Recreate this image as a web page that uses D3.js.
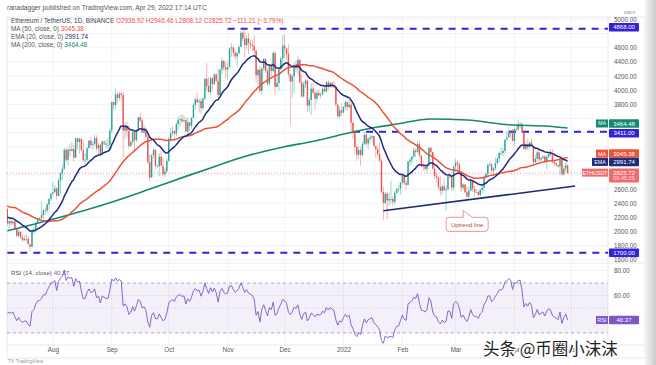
<!DOCTYPE html>
<html><head><meta charset="utf-8">
<script src="https://cdn.jsdelivr.net/npm/d3@7"></script>
<style>
body{margin:0;background:#fff}
svg{display:block;font-family:"Liberation Sans",Arial,sans-serif}
</style>
</head><body>
<svg id="c" width="656" height="365"></svg>
<script>
// ---------- DATA ----------
const startDate = "2021-07-08";
// closes before the visible window (May 20 – Jul 7 2021), used only for MA/EMA/RSI warm-up
const preCloses = [2770,2430,2300,2100,2640,2710,2890,2740,2420,2280,2390,2630,
 2590,2710,2860,2690,2630,2710,2590,2520,2610,2470,2370,2370,2510,2590,2550,2360,2370,2230,2180,2250,1890,1870,1970,1990,1830,1820,1980,2080,2160,2270,
 2110,2150,2220,2320,2200,2320,2320];
const closes = [
 2115,2146,2116,2142,2034,1940,1995,1915,1877,1896,1895,1820,1785,1995,2030,2124,2187,2190,2230,2300,2298,2383,2461,2536,
 2555,2610,2505,2725,2828,2890,3155,3015,3160,3140,3165,3045,3320,3265,3310,3150,3010,3015,3180,3285,3225,3240,3325,3175,3225,3100,3270,3245,3225,3225,3430,
 3830,3790,3940,3890,3950,3930,3430,3495,3425,3210,3265,3410,3290,3430,3615,3570,3400,3435,3335,2980,2765,3080,3155,2930,2925,3060,2930,2810,2850,3000,
 3310,3390,3420,3385,3520,3580,3590,3560,3575,3415,3545,3495,3605,3790,3870,3830,3845,3745,3880,4160,4060,3970,4170,4085,4220,4130,3930,4290,4415,4320,4290,
 4325,4590,4605,4530,4475,4520,4610,4810,4730,4635,4730,4665,4645,4625,4560,4210,4290,3990,4305,4440,4270,4090,4340,4270,4525,4045,4100,4295,4445,4630,
 4590,4515,4225,4120,4195,4355,4310,4430,4110,3910,4085,4135,3780,3860,4020,3965,3880,3960,3925,3940,4020,3980,4110,4045,4100,4065,4040,3795,3630,3715,3680,
 3765,3830,3760,3795,3540,3410,3195,3085,3155,3080,3240,3370,3245,3310,3330,3350,3210,3165,3095,3000,2560,2405,2535,2440,2460,2460,2420,2545,2600,2605,2690,
 2790,2685,2660,2990,3015,3060,3145,3125,3240,3075,2925,2915,2885,2935,3185,3125,2890,2785,2765,2630,2575,2640,2585,2600,2780,2775,2620,2920,
 2975,2950,2835,2620,2665,2555,2495,2575,2725,2605,2560,2560,2515,2590,2620,2770,2815,2945,2950,2860,2895,2970,3030,3110,3110,3140,3300,3330,3400,3385,3280,
 3450,3445,3520,3520,3410,3170,3235,3190,3260,3210,2980,3030,3120,3020,3040,3060,2990,3060,3100,3080,2985,2965,2940,2920,3010,2810,2890,2936.93,2825.72];
const highs = [
 2325,2190,2195,2160,2170,2045,2020,2010,1950,1945,1970,1935,1830,2040,2060,2140,2190,2200,2430,2320,2340,2400,2470,2545,
 2700,2660,2630,2760,2840,2950,3180,3185,3180,3230,3270,3230,3330,3330,3330,3330,3290,3110,3190,3300,3340,3280,3375,3360,3250,3245,3290,3285,3295,3330,3470,
 3840,3840,4025,3980,3970,3980,3970,3540,3560,3510,3285,3450,3420,3450,3620,3680,3600,3515,3470,3370,3100,3090,3180,3170,2940,3110,3140,3040,2900,3040,
 3340,3460,3490,3440,3550,3620,3650,3660,3640,3610,3610,3550,3620,3820,3900,3960,3880,3890,3890,4170,4380,4180,4190,4180,4240,4240,4300,4300,4460,4420,4390,
 4390,4600,4665,4620,4570,4540,4640,4830,4840,4868,4780,4810,4710,4710,4780,4560,4300,4345,4330,4460,4450,4310,4370,4380,4550,4550,4190,4310,4475,4780,
 4780,4600,4650,4240,4230,4390,4420,4490,4430,4220,4120,4160,4150,3900,4100,4100,3980,4000,4010,3980,4040,4060,4130,4140,4120,4110,4130,4050,3800,3770,3815,
 3770,3860,3840,3880,3850,3550,3420,3230,3200,3200,3270,3410,3380,3330,3370,3360,3360,3210,3190,3260,3030,2630,2560,2560,2550,2720,2500,2570,2620,2650,2700,
 2810,2790,2720,2995,3040,3065,3190,3180,3270,3280,3080,2990,2930,2950,3190,3190,3130,2930,2830,2780,2780,2670,2750,2650,2800,2820,2800,2930,
 3030,3000,2990,2850,2680,2675,2640,2630,2760,2730,2650,2600,2580,2600,2650,2790,2830,2950,2990,2970,2915,3050,3050,3130,3190,3180,3300,3430,3480,3440,3450,
 3470,3530,3580,3550,3550,3410,3260,3310,3270,3310,3210,3080,3150,3130,3060,3080,3080,3075,3120,3170,3170,3000,2980,2950,3030,3030,2930,2975,2946.46];
const lows = [
 2080,2050,2075,2090,2020,1920,1915,1895,1855,1870,1860,1815,1720,1785,1955,1990,2110,2155,2170,2175,2240,2260,2305,2430,
 2510,2560,2450,2490,2530,2730,2860,2990,2940,3060,3130,2990,3040,3160,3100,3140,2990,2955,2975,3170,3190,3160,3210,3140,3100,3070,3080,3220,3180,3170,3160,
 3390,3710,3725,3810,3850,3850,3050,3310,3340,3170,3200,3230,3150,3270,3415,3550,3390,3385,3330,2950,2700,2760,3030,2880,2890,2780,2930,2790,2775,2835,
 2990,3270,3360,3300,3350,3430,3480,3535,3540,3410,3385,3420,3455,3600,3720,3820,3685,3670,3720,3855,3990,3970,3930,4000,4080,4120,3880,3930,4220,4270,4150,
 4150,4320,4470,4480,4430,4330,4510,4610,4690,4450,4570,4510,4590,4550,4510,4110,4080,3960,3940,4270,4240,4060,4060,4200,4250,3930,4040,3990,4280,4300,
 4450,4435,4180,3500,3900,3950,4250,4220,4100,3890,3900,4030,3690,3700,3650,3950,3730,3830,3915,3880,3930,3980,3960,4000,4030,4030,4020,3770,3610,3600,3630,
 3675,3720,3705,3730,3400,3310,3100,3000,3030,2930,3060,3220,3215,3160,3270,3270,3190,3050,3060,2990,2540,2160,2390,2170,2360,2400,2360,2390,2540,2550,2520,
 2670,2660,2590,2660,2930,2950,3050,3050,3100,3050,2900,2860,2860,2830,2930,3080,2870,2740,2690,2600,2510,2520,2570,2300,2580,2750,2570,2580,
 2850,2840,2810,2560,2580,2540,2450,2470,2570,2560,2480,2540,2500,2500,2540,2570,2770,2770,2910,2830,2830,2865,2940,2980,3070,3070,3110,3290,3330,3320,3280,
 3210,3420,3420,3460,3400,3150,3140,3150,3180,3200,2950,2960,2990,2990,2990,3030,2980,2890,3040,3060,2960,2930,2920,2900,2800,2790,2790,2850,2808.12];
// MA(200)
const ma200Dates = ["2021-07-08","2021-08-01","2021-08-31","2021-09-21","2021-10-10","2021-10-23","2021-11-10","2021-12-01","2021-12-15","2022-01-03","2022-01-19","2022-01-29","2022-02-16","2022-03-07","2022-03-29","2022-04-19","2022-04-29"];
const ma200Values = [2012,2175,2408,2600,2780,2900,3060,3200,3270,3390,3478,3520,3592,3577,3510,3490,3464.48];
// horizontal levels and trend line
const levels = [4868, 3411, 1700];
const levelStarts = ["2021-11-01","2022-01-06","2021-07-08"];
const trendDates = ["2022-01-22","2022-05-03"];
const trendPrices = [2295, 2644];
const noteDate = "2022-03-05", notePrice = 2300, noteText = "Uptrend line";
// ticks
const priceTicks = [1600,1800,2000,2200,2400,2600,2800,3000,3200,3400,3600,3800,4000,4200,4400,4600,4800,5000];
const rsiTicks = [80,60];
const monthTicks = ["2021-08-01","2021-09-01","2021-10-01","2021-11-01","2021-12-01","2022-01-01","2022-02-01","2022-03-01","2022-04-01","2022-05-01"];
const monthLabels = ["Aug","Sep","Oct","Nov","Dec","2022","Feb","Mar","Apr","May"];
// legend / last values
const lastClose = 2825.72, lastMA50 = 3045.38, lastEMA20 = 2991.74, lastMA200 = 3464.48, lastRSI = 40.37;
const headerText = "ranadagger published on TradingView.com, Apr 29, 2022 17:14 UTC";
const symbolText = "Ethereum / TetherUS, 1D, BINANCE";
const ohlcText = "O2936.92 H2946.46 L2808.12 C2825.72 \u2212111.21 (\u22123.79%)";
const countdown = "06:45:35";

// ---------- SETUP ----------
const svg = d3.select("#c");
const P = {l:7, r:608, t:17, b:262};
const R = {t:264, b:345};
const day = 864e5;
const parse = s => new Date(s + "T00:00:00Z");
const t0 = parse(startDate).getTime();
const dates = closes.map((_, i) => new Date(t0 + i * day));
const opens = closes.map((c, i) => i === 0 ? preCloses[preCloses.length - 1] : closes[i - 1]);
const candles = closes.map((c, i) => ({date: dates[i], o: opens[i], h: highs[i], l: lows[i], c}));

const x = d3.scaleUtc().domain([parse("2021-07-01"), parse("2022-05-15")]).range([-6, 598]);
const y = d3.scaleLinear().domain([1600, 4600]).range([259.8, 47.7]);
const ry = d3.scaleLinear().domain([30, 70]).range([333, 283]);

// indicators
const all = preCloses.concat(closes);
const off = preCloses.length;
const ma50 = closes.map((_, i) => d3.mean(all.slice(off + i - 49, off + i + 1)));
const ema = [];
let e = d3.mean(all.slice(0, 20));
for (let i = 20; i < all.length; i++) { e = all[i] * 2 / 21 + e * 19 / 21; ema[i] = e; }
const ema20 = closes.map((_, i) => ema[off + i]);
let ag = 0, al = 0; const rsiAll = [];
for (let i = 1; i < all.length; i++) {
  const ch = all[i] - all[i - 1], g = Math.max(ch, 0), l = Math.max(-ch, 0);
  if (i <= 14) { ag += g / 14; al += l / 14; }
  else { ag = (ag * 13 + g) / 14; al = (al * 13 + l) / 14; }
  rsiAll[i] = al === 0 ? 100 : 100 - 100 / (1 + ag / al);
}
const rsi = closes.map((_, i) => rsiAll[off + i]);

// badge positions (value → y), used to hide axis labels covered by badges
const badgeYs = [y(levels[0]) - 1.5, y(lastMA200) - 4.5, y(levels[1]) + 1.5, y(lastMA50) - 4,
                 y(lastEMA20) + 0.5, y(lastClose) - 0.5 + 3, y(levels[2])];

// ---------- BACKGROUND / FRAME ----------
svg.append("rect").attr("width", 656).attr("height", 365).attr("fill", "#fff");
const defs = svg.append("defs");
const gr = defs.append("linearGradient").attr("id", "side");
gr.append("stop").attr("offset", "0").attr("stop-color", "#f4f4f4");
gr.append("stop").attr("offset", "1").attr("stop-color", "#c9c9c9");
defs.append("clipPath").attr("id", "cp").append("rect").attr("x", P.l).attr("y", P.t).attr("width", P.r - P.l).attr("height", P.b - P.t);
defs.append("clipPath").attr("id", "cr").append("rect").attr("x", P.l).attr("y", R.t).attr("width", P.r - P.l).attr("height", R.b - R.t);

svg.append("text").attr("x", 7).attr("y", 10).attr("font-size", 6.6).attr("fill", "#555").text(headerText);

// grids
const grid = svg.append("g").attr("stroke", "#eef0f4").attr("stroke-width", 0.8);
priceTicks.forEach(p => { if (y(p) > P.t && y(p) < P.b) grid.append("line").attr("x1", P.l).attr("x2", P.r).attr("y1", y(p)).attr("y2", y(p)); });
rsiTicks.forEach(v => grid.append("line").attr("x1", P.l).attr("x2", P.r).attr("y1", ry(v)).attr("y2", ry(v)));
monthTicks.forEach(m => {
  const xx = x(parse(m));
  grid.append("line").attr("x1", xx).attr("x2", xx).attr("y1", P.t).attr("y2", P.b);
  grid.append("line").attr("x1", xx).attr("x2", xx).attr("y1", R.t).attr("y2", R.b);
});

// frame lines
const fr = svg.append("g").attr("stroke", "#e0e3eb").attr("fill", "none").attr("stroke-width", 0.8);
fr.append("rect").attr("x", P.l).attr("y", P.t).attr("width", 638).attr("height", 341);
fr.append("line").attr("x1", P.l).attr("x2", 645).attr("y1", 263).attr("y2", 263);
fr.append("line").attr("x1", P.l).attr("x2", 645).attr("y1", R.b).attr("y2", R.b);
fr.append("line").attr("x1", P.r).attr("x2", P.r).attr("y1", P.t).attr("y2", 358);

// ---------- PRICE PANE ----------
const pg = svg.append("g").attr("clip-path", "url(#cp)");

levels.forEach((lv, i) => {
  pg.append("line").attr("x1", x(parse(levelStarts[i]))).attr("x2", P.r).attr("y1", y(lv)).attr("y2", y(lv))
    .attr("stroke", "#3522d6").attr("stroke-width", 2).attr("stroke-dasharray", "7,6");
});
pg.append("line").attr("x1", P.l).attr("x2", P.r).attr("y1", y(lastClose)).attr("y2", y(lastClose))
  .attr("stroke", "#ef5350").attr("stroke-width", 0.8).attr("stroke-dasharray", "1,2").attr("opacity", 0.8);

const up = "#26a69a", dn = "#ef5350";
const cg = pg.append("g");
cg.selectAll("line").data(candles).join("line")
  .attr("x1", d => x(d.date)).attr("x2", d => x(d.date))
  .attr("y1", d => y(Math.max(d.h, d.o, d.c))).attr("y2", d => y(Math.min(d.l, d.o, d.c)))
  .attr("stroke", d => d.c >= d.o ? up : dn).attr("stroke-width", 0.6).attr("opacity", 0.75);
cg.selectAll("rect").data(candles).join("rect")
  .attr("x", d => x(d.date) - 0.7).attr("width", 1.4)
  .attr("y", d => y(Math.max(d.o, d.c)))
  .attr("height", d => Math.max(0.7, Math.abs(y(d.o) - y(d.c))))
  .attr("fill", d => d.c >= d.o ? up : dn);

const line = d3.line().x(d => x(d[0])).y(d => y(d[1])).curve(d3.curveMonotoneX);
pg.append("path").datum(ma200Dates.map((d, i) => [parse(d), ma200Values[i]])).attr("d", line)
  .attr("fill", "none").attr("stroke", "#138a6c").attr("stroke-width", 1.6);
pg.append("path").datum(ma50.map((v, i) => [dates[i], v])).attr("d", line)
  .attr("fill", "none").attr("stroke", "#ec5338").attr("stroke-width", 1.5);
pg.append("path").datum(ema20.map((v, i) => [dates[i], v])).attr("d", line)
  .attr("fill", "none").attr("stroke", "#1f2b7c").attr("stroke-width", 1.5);

pg.append("line").attr("x1", x(parse(trendDates[0]))).attr("y1", y(trendPrices[0]))
  .attr("x2", x(parse(trendDates[1]))).attr("y2", y(trendPrices[1]))
  .attr("stroke", "#1f2a6e").attr("stroke-width", 1.5);

const nx = x(parse(noteDate)), ny = y(notePrice);
const bx = nx - 17, by = ny + 7, bw = 42, bh = 14;
pg.append("path").attr("d",
  `M${bx+3},${by} L${nx},${by} L${nx},${ny} L${nx+9},${by} L${bx+bw-3},${by} Q${bx+bw},${by} ${bx+bw},${by+3} L${bx+bw},${by+bh-3} Q${bx+bw},${by+bh} ${bx+bw-3},${by+bh} L${bx+3},${by+bh} Q${bx},${by+bh} ${bx},${by+bh-3} L${bx},${by+3} Q${bx},${by} ${bx+3},${by} Z`)
  .attr("fill", "#fff").attr("stroke", "#e47b7b").attr("stroke-width", 0.8);
pg.append("text").attr("x", bx + bw / 2).attr("y", by + 9.3).attr("text-anchor", "middle")
  .attr("font-size", 6).attr("fill", "#c2413b").text(noteText);

// legend
const lg = svg.append("g").attr("font-size", 6.4);
const t1 = lg.append("text").attr("x", 11).attr("y", 23);
t1.append("tspan").attr("fill", "#444").text(symbolText + " ");
t1.append("tspan").attr("fill", "#ef5350").text(ohlcText);
[["MA (50, close, 0) ", lastMA50, "#ec5338"], ["EMA (20, close, 0) ", lastEMA20, "#1f2b7c"], ["MA (200, close, 0) ", lastMA200, "#138a6c"]]
  .forEach((r, i) => {
    const t = lg.append("text").attr("x", 11).attr("y", 31.3 + i * 7.8);
    t.append("tspan").attr("fill", "#555").text(r[0]);
    t.append("tspan").attr("fill", r[2]).text(r[1].toFixed(2));
  });

// price axis (labels that sit under a badge are hidden, as on the original)
const ya = svg.append("g").attr("transform", "translate(614,0)")
  .call(d3.axisRight(y).tickValues(priceTicks).tickSize(0).tickPadding(0).tickFormat(d => d.toFixed(2)));
ya.select(".domain").remove();
ya.selectAll("text").attr("font-size", 6.3).attr("fill", "#555").attr("font-family", "Liberation Sans, Arial, sans-serif");
ya.selectAll(".tick").filter(d => y(d) < 16 || y(d) > 262 || badgeYs.some(b => Math.abs(b - y(d)) < 7)).remove();
svg.append("text").attr("x", 624).attr("y", 14).attr("font-size", 4.3).attr("fill", "#777").text("USDT");

// badges
function badge(yc, txt, col, sub) {
  const h = sub ? 14 : 8.5;
  const g = svg.append("g");
  g.append("rect").attr("x", 609).attr("y", yc - 4.25).attr("width", 30).attr("height", h).attr("fill", col).attr("rx", 0.8);
  g.append("text").attr("x", 624).attr("y", yc + 2.1).attr("text-anchor", "middle").attr("font-size", 6).attr("fill", "#fff").text(txt);
  if (sub) g.append("text").attr("x", 624).attr("y", yc + 7.6).attr("text-anchor", "middle").attr("font-size", 5.5).attr("fill", "#fde").text(sub);
}
function tag(yc, txt, col, w) {
  svg.append("rect").attr("x", 608 - w).attr("y", yc - 4).attr("width", w).attr("height", 8).attr("fill", col);
  svg.append("text").attr("x", 608 - w / 2).attr("y", yc + 2).attr("text-anchor", "middle").attr("font-size", 5.3).attr("fill", "#fff").text(txt);
}
badge(y(levels[0]) - 1.5, levels[0].toFixed(2), "#3522d6");
badge(y(lastMA200) - 4.5, lastMA200.toFixed(2), "#138a6c");
tag(y(lastMA200) - 4.5, "MA", "#138a6c", 12);
badge(y(levels[1]) + 1.5, levels[1].toFixed(2), "#3522d6");
badge(y(lastMA50) - 4, lastMA50.toFixed(2), "#ec5338");
tag(y(lastMA50) - 4, "MA", "#ec5338", 12);
badge(y(lastEMA20) + 0.5, lastEMA20.toFixed(2), "#1f2b7c");
tag(y(lastEMA20) + 0.5, "EMA", "#1f2b7c", 16);
badge(y(lastClose) - 0.5, lastClose.toFixed(2), "#f26b6b", countdown);
tag(y(lastClose) - 0.5, "ETHUSDT", "#f26b6b", 26);
badge(y(levels[2]), levels[2].toFixed(2), "#3522d6");

// ---------- RSI PANE ----------
const rg = svg.append("g").attr("clip-path", "url(#cr)");
rg.append("rect").attr("x", P.l).attr("width", P.r - P.l).attr("y", ry(70)).attr("height", ry(30) - ry(70))
  .attr("fill", "#7e57c2").attr("opacity", 0.09);
[70, 30].forEach(v => rg.append("line").attr("x1", P.l).attr("x2", P.r).attr("y1", ry(v)).attr("y2", ry(v))
  .attr("stroke", "#8a8d96").attr("stroke-width", 0.7).attr("stroke-dasharray", "3,3"));
rg.append("line").attr("x1", P.l).attr("x2", P.r).attr("y1", ry(50)).attr("y2", ry(50))
  .attr("stroke", "#b9b0d0").attr("stroke-width", 0.5).attr("stroke-dasharray", "1,2");
rg.append("path").datum(rsi.map((v, i) => [dates[i], v]))
  .attr("d", d3.line().x(d => x(d[0])).y(d => ry(d[1])))
  .attr("fill", "none").attr("stroke", "#7e57c2").attr("stroke-width", 0.9);
const rt = svg.append("text").attr("x", 11).attr("y", 275).attr("font-size", 6.2);
rt.append("tspan").attr("fill", "#555").text("RSI (14, close) ");
rt.append("tspan").attr("fill", "#7e57c2").text(lastRSI.toFixed(2));
const ra = svg.append("g").attr("transform", "translate(614,0)")
  .call(d3.axisRight(ry).tickValues(rsiTicks).tickSize(0).tickPadding(0).tickFormat(d => d.toFixed(2)));
ra.select(".domain").remove();
ra.selectAll("text").attr("font-size", 6.3).attr("fill", "#555").attr("font-family", "Liberation Sans, Arial, sans-serif");
badge(ry(lastRSI), lastRSI.toFixed(2), "#7e57c2");
tag(ry(lastRSI), "RSI", "#7e57c2", 12);

// ---------- TIME AXIS ----------
const xa = svg.append("g").attr("transform", "translate(0,348)")
  .call(d3.axisBottom(x).tickValues(monthTicks.map(parse)).tickSize(0).tickPadding(0).tickFormat((d, i) => monthLabels[i]));
xa.select(".domain").remove();
xa.selectAll("text").attr("font-size", 6.3).attr("fill", "#555").attr("font-family", "Liberation Sans, Arial, sans-serif");

svg.append("rect").attr("x", 645).attr("y", 0).attr("width", 11).attr("height", 365).attr("fill", "url(#side)");
svg.append("text").attr("x", 8).attr("y", 363).attr("font-size", 5).attr("fill", "#999").text("TV  TradingView");

// watermark (sits over the Apr/May labels, as in the original screenshot)
svg.append("text").attr("x", 483).attr("y", 355).attr("font-size", 16.5)
  .attr("font-family", "'Noto Sans CJK SC', sans-serif").attr("fill", "#222")
  .attr("stroke", "#fff").attr("stroke-width", 2.5).attr("paint-order", "stroke")
  .text("头条 @币圈小沫沫");
</script>
</body></html>
